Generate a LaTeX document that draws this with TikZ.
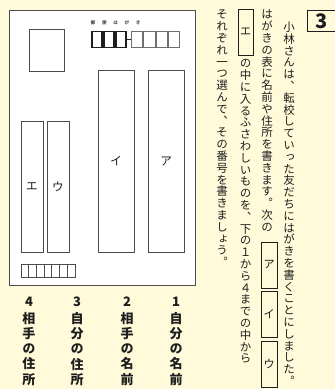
\documentclass[tikz,border=0pt]{standalone}
\usepackage{fontspec}
\usetikzlibrary{positioning}
\newfontfamily\jpfont[RawFeature=+vert]{Noto Sans CJK JP}
\definecolor{cream}{RGB}{255,250,218}
\definecolor{ink}{RGB}{30,30,30}
\definecolor{cardline}{RGB}{75,75,75}
% vertical writing: one character per cell
\newcommand\tatecell[1]{\hbox to 1em{\hss#1\hss}}
\def\tateloop#1{\ifx\relax#1\else\tatecell{#1}\expandafter\tateloop\fi}
\newcommand\tate[2][11.8pt]{\edef\tatetext{#2}\vbox{\baselineskip=#1\relax\lineskiplimit=-20pt\expandafter\tateloop\tatetext\relax}}
\begin{document}
\begin{tikzpicture}[x=1pt,y=-1pt,
    body/.style={font=\jpfont\fontsize{11.5}{11.8}\selectfont,text=ink,inner sep=0pt,anchor=north},
    blank/.style={draw=ink,line width=0.8pt,inner sep=0pt,minimum width=16pt,minimum height=46pt,font=\jpfont\fontsize{11.5}{12}\selectfont,text=ink},
    field/.style={draw=cardline,line width=0.8pt,fill=white,inner sep=0pt,font=\jpfont\fontsize{12}{13}\selectfont,text=ink},
    codethick/.style={draw=ink,line width=1.3pt},
    codethin/.style={draw=cardline!80,line width=0.7pt},
    tinyhead/.style={font=\jpfont\bfseries\fontsize{4.5}{5}\selectfont,text=cardline,inner sep=0pt},
    choicenum/.style={font=\jpfont\bfseries\fontsize{13}{14}\selectfont,text=ink,inner sep=0pt},
    choice/.style={font=\jpfont\bfseries\fontsize{13}{15}\selectfont,text=ink,inner sep=0pt}]
    \path[use as bounding box,fill=cream] (0,0) rectangle (335,389);
    \clip (0,0) rectangle (335,389);
    % question number
    \draw[ink,line width=1pt] (307,10) rectangle (345,31);
    \node[font=\jpfont\bfseries\fontsize{20}{20}\selectfont,text=ink,inner sep=0pt] (qnum) at (322,21) {3};
    % postcard
    \draw[cardline,fill=white,line width=0.9pt] (9,10) rectangle (195,285);
    \draw[cardline,line width=0.8pt] (29,29) rectangle (64,71);
    \foreach \c [count=\i] in {郵,便,は,が,き}
        \node[tinyhead] (head\i) at (81.7+11.3*\i,23) {\c};
    \foreach \i in {0,1,2}
        \draw[codethick] (92+12*\i,31.5) rectangle ++(10,16);
    \draw[codethick] (126,39.5) -- (131,39.5);
    \foreach \i in {0,...,3}
        \draw[codethin] (131.5+12.2*\i,31.5) rectangle ++(11.2,16);
    \node[field,minimum width=36pt,minimum height=182pt] (fieldA) at (166,161) {ア};
    \node[field,minimum width=36pt,minimum height=182pt] (fieldI) at (116,161) {イ};
    \node[field,minimum width=22pt,minimum height=131pt] (fieldU) at (58,186.5) {ウ};
    \node[field,minimum width=22pt,minimum height=131pt] (fieldE) at (32,186.5) {エ};
    \foreach \i in {0,...,6}
        \draw[cardline,line width=0.7pt] (21+7.7*\i,264) rectangle ++(7.7,13);
    % question text
    \node[body] (line1) at (289,21.8) {\tate{小林さんは、転校していった友だちにはがきを書くことにしました。}};
    \node[body] (line2) at (267,10) {\tate{はがきの表に名前や住所を書きます。次の}};
    \node[blank] (blankA) at (269,265) {ア};
    \node[blank] (blankI) at (269,314.5) {イ};
    \node[blank] (blankU) at (269,364) {ウ};
    \node[blank,minimum width=15pt] (blankE) at (245.5,32) {エ};
    \node[body,below=4pt of blankE] (line3) {\tate{の中に入るふさわしいものを、下の１から４までの中から}};
    \node[body] (line4) at (222,10) {\tate{それぞれ一つ選んで、その番号を書きましょう。}};
    % choices
    \foreach \x/\n/\choicetext in {176/1/自分の名前,127/2/相手の名前,77/3/自分の住所,29/4/相手の住所} {
        \node[choicenum] (num\n) at (\x,302) {\n};
        \node[choice,below=5pt of num\n] (choice\n) {\tate[15.2pt]{\choicetext}};
    }
\end{tikzpicture}
\end{document}
